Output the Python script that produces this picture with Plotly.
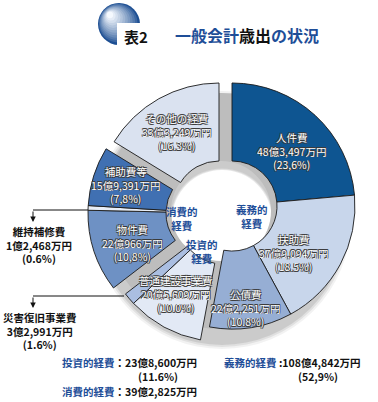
import plotly.graph_objects as go

W, H = 378, 402

# ---------------- data ----------------
items = ["人件費", "扶助費", "公債費", "普通建設事業費", "災害復旧事業費",
         "物件費", "維持補修費", "補助費等", "その他の経費"]
amounts = [483497, 379094, 222251, 205609, 32991, 220966, 12468, 159391, 333249]  # 万円
pct_labels = ["23,6%", "18.5%", "10.8%", "10.0%", "1.6%", "10,8%", "0.6%", "7,8%", "16.3%"]
groups = ["義務的", "義務的", "義務的", "投資的", "投資的", "消費的", "消費的", "消費的", "その他"]
group_pct = {"義務的": "52,9%", "投資的": "11.6%"}

# ---------------- styles ----------------
colors = ["#0e5591", "#c8d6eb", "#96aed4", "#e2e9f5", "#aabee1",
          "#6e91c4", "#e8eef7", "#4070b2", "#dae2f0"]
group_order = ["義務的", "投資的", "消費的", "その他"]
group_center = {"義務的": (232, 206), "投資的": (223, 219), "消費的": (211, 213), "その他": (219, 206)}
R = 123
HOLE = 0.366
NAVY = "#1e4e98"
FONT = "Noto Sans CJK JP"
OUTLINE = ("0.7px 0.7px 0 #3a3a3a, -0.7px -0.7px 0 #3a3a3a, "
           "0.7px -0.7px 0 #3a3a3a, -0.7px 0.7px 0 #3a3a3a")

# label positions (pixels) for inside labels; None -> external
label_pos = [(291, 151), (293, 253), (245, 308), (176, 294), None,
             (132, 243), None, (125, 185), (176, 132)]
external_pos = {4: (40, 331), 6: (39, 245)}
leader = {4: ((124, 296), (33, 296), (33, 308)), 6: ((88, 210), (33, 210), (33, 222))}
group_label_pos = {"義務的": (252, 216), "消費的": (182, 218), "投資的": (202, 251)}


def px(x):
    return x / W


def py(y):
    return 1 - y / H


def yen(v):
    oku, man = divmod(v, 10000)
    return f"{oku}億{man:,}万円"


def note(x, y, text, font, xanchor="center", **kw):
    d = dict(x=px(x), y=py(y), xref="paper", yref="paper", showarrow=False,
             text=text, font=font, xanchor=xanchor, yanchor="middle", align="center")
    d.update(kw)
    return d


def dom(cx, cy, r):
    return dict(x=[px(cx - r), px(cx + r)], y=[py(cy + r), py(cy - r)])


fig = go.Figure()

# soft drop shadow under the whole chart
for r, a in [(129, 0.05), (127, 0.07), (125, 0.09)]:
    fig.add_trace(go.Pie(values=[1], labels=["shadow"], sort=False, hole=0.4,
                         marker=dict(colors=[f"rgba(0,0,0,{a})"], line=dict(width=0)),
                         domain=dom(222, 220, r), textinfo="none", hoverinfo="skip"))

# gray gaps background
fig.add_trace(go.Pie(values=[1], labels=["bg"], sort=False, hole=50 / 118,
                     marker=dict(colors=["#bdbdbd"], line=dict(width=0)),
                     domain=dom(221, 211, 118), textinfo="none", hoverinfo="skip"))

for g in group_order:
    cx, cy = group_center[g]
    cols = [c if gg == g else "rgba(0,0,0,0)" for c, gg in zip(colors, groups)]
    lw = [0.9 if gg == g else 0 for gg in groups]
    fig.add_trace(go.Pie(
        values=amounts, labels=items, sort=False, direction="clockwise", rotation=0,
        hole=HOLE,
        marker=dict(colors=cols, line=dict(color="#1a1a1a", width=lw)),
        domain=dom(cx, cy, R), textinfo="none", hoverinfo="skip"))

ann = []
# inside slice labels
for i, pos in enumerate(label_pos):
    if pos is None:
        continue
    ann.append(note(pos[0], pos[1], f"{items[i]}<br>{yen(amounts[i])}<br>({pct_labels[i]})",
                    dict(family=FONT, size=10.5, color="white", shadow=OUTLINE)))

# external labels + leader lines
shapes = []
for i, pos in external_pos.items():
    ann.append(note(pos[0], pos[1], f"{items[i]}<br>{yen(amounts[i])}<br>({pct_labels[i]})",
                    dict(family=FONT, size=10.5, color="#111", weight="bold")))
    p0, p1, p2 = leader[i]
    shapes.append(dict(type="line", xref="paper", yref="paper",
                       x0=px(p0[0]), y0=py(p0[1]), x1=px(p1[0]), y1=py(p1[1]),
                       line=dict(color="#111", width=1)))
    ann.append(dict(x=px(p2[0]), y=py(p2[1]), xref="paper", yref="paper",
                    ax=0, ay=-(p2[1] - p1[1]), axref="pixel", ayref="pixel",
                    showarrow=True, arrowhead=2, arrowsize=1.1, arrowwidth=1,
                    arrowcolor="#111", text=""))

# group labels in holes
for g, pos in group_label_pos.items():
    ann.append(note(pos[0], pos[1], f"{g}<br>経費",
                    dict(family=FONT, size=10.5, color=NAVY, weight="bold")))

# bottom summary
totals = {g: sum(a for a, gg in zip(amounts, groups) if gg == g) for g in group_order}
bold = dict(family=FONT, size=10.5, color="#111", weight="bold")
ann.append(note(60, 362, f"<span style='color:{NAVY}'>投資的経費</span>：{yen(totals['投資的'])}",
                bold, xanchor="left"))
ann.append(note(158, 376, f"({group_pct['投資的']})", bold))
ann.append(note(60, 391, f"<span style='color:{NAVY}'>消費的経費</span>：{yen(totals['消費的'])}",
                bold, xanchor="left"))
ann.append(note(222, 362, f"<span style='color:{NAVY}'>義務的経費</span> :{yen(totals['義務的'])}",
                bold, xanchor="left"))
ann.append(note(318, 376, f"({group_pct['義務的']})", bold))

# title sphere (concentric circles gradient)
n = 12
c_dark = (29, 79, 147)
c_light = (245, 249, 254)
for k in range(n):
    t = k / (n - 1)
    r = 21 * (1 - 0.85 * t)
    cx = 119 - 9 * t
    cy = 24 - 9 * t
    col = tuple(int(c_dark[j] + (c_light[j] - c_dark[j]) * t ** 0.8) for j in range(3))
    shapes.append(dict(type="circle", xref="paper", yref="paper",
                       x0=px(cx - r), x1=px(cx + r), y0=py(cy + r), y1=py(cy - r),
                       fillcolor=f"rgb{col}", line=dict(width=0)))
shapes.append(dict(type="rect", xref="paper", yref="paper",
                   x0=px(117), x1=px(164), y0=py(48), y1=py(23),
                   fillcolor="white", line=dict(width=0)))
ann.append(note(122, 36, "表2", dict(family=FONT, size=15, color="#111", weight="bold"), xanchor="left"))
ann.append(note(173, 35,
                f"<span style='color:{NAVY}'>一般会計</span>歳出<span style='color:{NAVY}'>の状況</span>",
                dict(family=FONT, size=16, color="#111", weight="bold"), xanchor="left"))

fig.update_layout(width=W, height=H, margin=dict(l=0, r=0, t=0, b=0),
                  paper_bgcolor="white", showlegend=False,
                  annotations=ann, shapes=shapes)

fig.write_html("out.html", config={"displayModeBar": False},
               post_script="document.body.style.margin='0';document.body.style.overflow='hidden';")
